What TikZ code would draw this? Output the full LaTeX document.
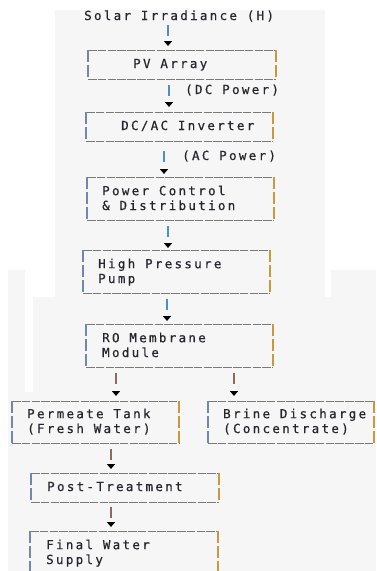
\documentclass[tikz,border=0pt]{standalone}
\usepackage{fontspec}
\usetikzlibrary{arrows.meta}
\newfontfamily\diagmono[LetterSpace=18.5,FakeBold=0.6]{DejaVu Sans Mono}
\definecolor{panel}{HTML}{F6F6F6}
\definecolor{ink}{HTML}{26262E}
\definecolor{rule}{HTML}{7A7A7A}
\definecolor{leftedge}{HTML}{7088AA}
\definecolor{rightedge}{HTML}{C9993F}
\definecolor{flowblue}{HTML}{4F8FC7}
\definecolor{flowbrown}{HTML}{8B6A60}
\tikzset{
  txt/.style={font=\diagmono\fontsize{12.5}{14.8}\selectfont, text=ink,
    inner sep=0pt, anchor=base west, align=left},
  frame/.style={rectangle, inner sep=0pt, outer sep=0pt, anchor=north west},
  hline/.style={draw=rule, line width=0.9pt, dash pattern=on 8.6pt off 1.2pt},
  lside/.style={draw=leftedge, line width=1.1pt, dash pattern=on 12pt off 2.8pt},
  rside/.style={draw=rightedge, line width=1.1pt, dash pattern=on 12pt off 2.8pt},
  flow/.style={line width=1.4pt, dash pattern=on 11pt off 40pt,
    -{Triangle[width=8pt,length=5pt,black]}},
}
% dashed ASCII-style frame around a named box node
\newcommand\drawframe[1]{%
  \draw[hline] (#1.north west) -- (#1.north east);
  \draw[hline] (#1.south west) -- (#1.south east);
  \draw[lside] (#1.north west) -- (#1.south west);
  \draw[rside] (#1.north east) -- (#1.south east);}
\begin{document}
\begin{tikzpicture}[x=1pt, y=-1pt]
\useasboundingbox (0,0) rectangle (376,571);
\clip (0,0) rectangle (376,571);
% background panels
\fill[white] (0,0) rectangle (376,571);
\fill[panel] (55,10) rectangle (325,297);
\fill[panel] (8,270) rectangle (376,571);
\fill[white] (25,270) rectangle (55,297);
\fill[white] (25,297) rectangle (33,392);
\fill[white] (325,250) rectangle (331,297);

% boxes
\node[frame, minimum width=188pt, minimum height=29pt] (pv)    at (88,50)  {};
\node[frame, minimum width=187pt, minimum height=29pt] (inv)   at (86,112) {};
\node[frame, minimum width=187pt, minimum height=43pt] (pcd)   at (87,177) {};
\node[frame, minimum width=187pt, minimum height=43pt] (hpp)   at (83,250) {};
\node[frame, minimum width=187pt, minimum height=43pt] (ro)    at (86,324) {};
\node[frame, minimum width=167pt, minimum height=42pt] (perm)  at (12,401) {};
\node[frame, minimum width=166pt, minimum height=42pt] (brine) at (208,401) {};
\node[frame, minimum width=188pt, minimum height=29pt] (post)  at (31,473) {};
\node[frame, minimum width=188pt, minimum height=60pt] (final) at (30,531) {};
\foreach \b in {pv,inv,pcd,hpp,ro,perm,brine,post,final}{\drawframe{\b}}

% texts (for two-line texts the position is the baseline of the last line)
\node[txt] (solar) at (84,20) {Solar Irradiance (H)};
\node[txt] (pvt)   at (133,68) {PV Array};
\node[txt] (invt)  at (121,130) {DC/AC Inverter};
\node[txt] (pcdt)  at (102,210) {Power Control\\\& Distribution};
\node[txt] (hppt)  at (98,283) {High Pressure\\Pump};
\node[txt] (rot)   at (102,357) {RO Membrane\\Module};
\node[txt] (permt) at (27,433) {Permeate Tank\\(Fresh Water)};
\node[txt] (brinet) at (223,433) {Brine Discharge\\(Concentrate)};
\node[txt] (postt) at (47,491) {Post-Treatment};
\node[txt] (finalt) at (46,564) {Final Water\\Supply};
\node[txt] (dcl)   at (185,94) {(DC Power)};
\node[txt] (acl)   at (182,160) {(AC Power)};

% flow connectors: short bar followed by a small arrowhead
\coordinate (s1) at (168,25);  \coordinate (e1) at (168,46);
\coordinate (s2) at (169,85);  \coordinate (e2) at (169,107);
\coordinate (s3) at (164,151); \coordinate (e3) at (164,174);
\coordinate (s4) at (168,226); \coordinate (e4) at (168,248);
\coordinate (s5) at (167,299); \coordinate (e5) at (167,321);
\coordinate (s6) at (116,373); \coordinate (e6) at (116,396);
\coordinate (s7) at (234,373); \coordinate (e7) at (234,396);
\coordinate (s8) at (111,449); \coordinate (e8) at (111,469);
\coordinate (s9) at (111,507); \coordinate (e9) at (111,527);
\foreach \i in {1,...,5}{\draw[flow, flowblue] (s\i) -- (e\i);}
\foreach \i in {6,...,9}{\draw[flow, flowbrown] (s\i) -- (e\i);}
\end{tikzpicture}
\end{document}
